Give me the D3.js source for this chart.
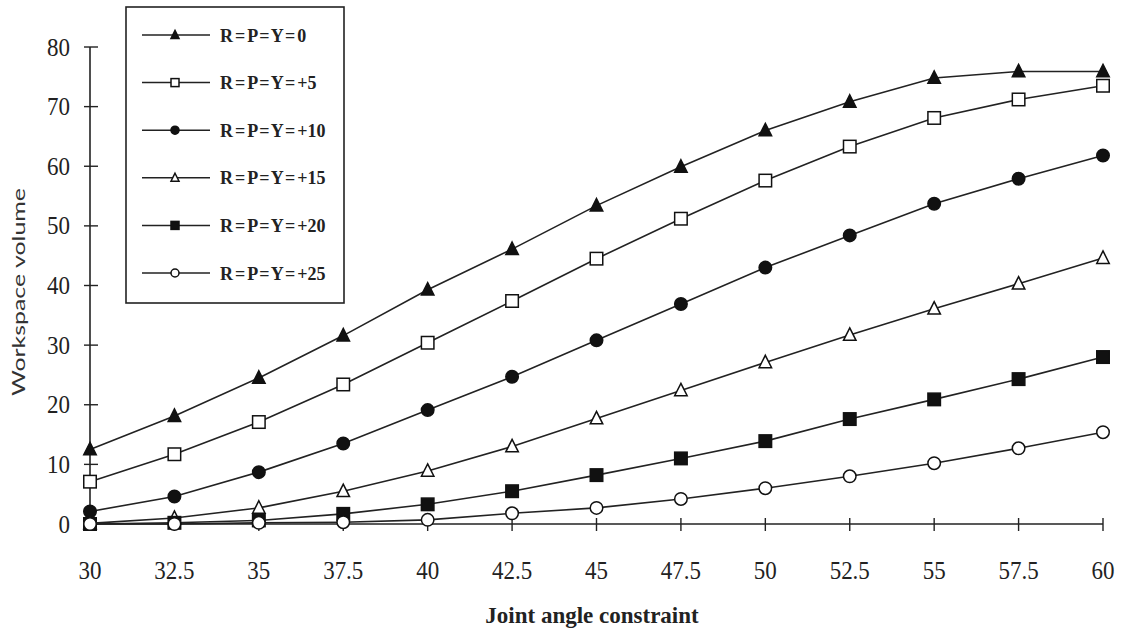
<!DOCTYPE html>
<html>
<head>
<meta charset="utf-8">
<script src="https://cdn.jsdelivr.net/npm/d3@7/dist/d3.min.js"></script>
<style>
  html, body { margin: 0; padding: 0; background: #fff; }
  svg { display: block; }
</style>
</head>
<body>
<svg id="chart" width="1132" height="635"></svg>
<script>
const angles = [30, 32.5, 35, 37.5, 40, 42.5, 45, 47.5, 50, 52.5, 55, 57.5, 60];
const xTickLabels = ["30", "32.5", "35", "37.5", "40", "42.5", "45", "47.5", "50", "52.5", "55", "57.5", "60"];
const yTicks = [0, 10, 20, 30, 40, 50, 60, 70, 80];

const seriesNames = ["R = P = Y = 0", "R = P = Y = +5", "R = P = Y = +10", "R = P = Y = +15", "R = P = Y = +20", "R = P = Y = +25"];
const seriesMarkers = ["triangleFilled", "squareOpen", "circleFilled", "triangleOpen", "squareFilled", "circleOpen"];

const rpy0  = [12.5, 18.1, 24.5, 31.6, 39.3, 46.1, 53.4, 59.9, 66.0, 70.8, 74.8, 75.9, 75.9];
const rpy5  = [7.1, 11.7, 17.1, 23.4, 30.4, 37.4, 44.5, 51.2, 57.6, 63.3, 68.1, 71.2, 73.5];
const rpy10 = [2.1, 4.6, 8.7, 13.5, 19.1, 24.7, 30.8, 36.9, 43.0, 48.4, 53.7, 57.9, 61.8];
const rpy15 = [0.1, 1.0, 2.7, 5.5, 8.9, 13.0, 17.7, 22.4, 27.1, 31.7, 36.1, 40.3, 44.6];
const rpy20 = [0.0, 0.2, 0.6, 1.7, 3.3, 5.5, 8.2, 11.0, 13.9, 17.6, 20.9, 24.3, 28.0];
const rpy25 = [0.0, 0.0, 0.2, 0.3, 0.7, 1.8, 2.7, 4.2, 6.0, 8.0, 10.2, 12.7, 15.4];

const seriesValues = [rpy0, rpy5, rpy10, rpy15, rpy20, rpy25];

const svg = d3.select("#chart");
const x = d3.scaleLinear().domain([30, 60]).range([90, 1103]);
const y = d3.scaleLinear().domain([0, 80]).range([524, 47]);

const serif = "'Liberation Serif', 'Times New Roman', serif";

// Axes
const xAxisG = svg.append("g").attr("transform", `translate(0,${y(0)})`);
xAxisG.append("line").attr("x1", x(30)).attr("x2", x(60)).attr("y1", 0).attr("y2", 0)
  .attr("stroke", "#222").attr("stroke-width", 1.6);
xAxisG.selectAll("line.tick").data(angles).enter().append("line")
  .attr("class", "tick")
  .attr("x1", d => x(d)).attr("x2", d => x(d)).attr("y1", -6).attr("y2", 7)
  .attr("stroke", "#222").attr("stroke-width", 1.4);
xAxisG.selectAll("text").data(angles).enter().append("text")
  .attr("transform", d => `translate(${x(d)},55) scale(1,1.12)`)
  .attr("text-anchor", "middle")
  .attr("font-family", serif).attr("font-size", 23).attr("fill", "#222")
  .text((d, i) => xTickLabels[i]);

const yAxisG = svg.append("g").attr("transform", `translate(${x(30)},0)`);
yAxisG.append("line").attr("x1", 0).attr("x2", 0).attr("y1", y(80)).attr("y2", y(0))
  .attr("stroke", "#222").attr("stroke-width", 1.6);
yAxisG.selectAll("line.tick").data(yTicks).enter().append("line")
  .attr("class", "tick")
  .attr("x1", -6).attr("x2", 8).attr("y1", d => y(d)).attr("y2", d => y(d))
  .attr("stroke", "#222").attr("stroke-width", 1.4);
yAxisG.selectAll("text").data(yTicks).enter().append("text")
  .attr("transform", d => `translate(-20,${y(d) + 8.5}) scale(1,1.12)`)
  .attr("text-anchor", "end")
  .attr("font-family", serif).attr("font-size", 23).attr("fill", "#222")
  .text(d => d);

// Axis titles
svg.append("text")
  .attr("x", 592).attr("y", 623)
  .attr("text-anchor", "middle")
  .attr("font-family", serif).attr("font-weight", "bold").attr("font-size", 23).attr("fill", "#222")
  .text("Joint angle constraint");

svg.append("text")
  .attr("transform", "translate(25,292) rotate(-90)")
  .attr("text-anchor", "middle")
  .attr("font-family", "Lato, 'Open Sans', sans-serif").attr("font-weight", 400)
  .attr("font-size", 18).attr("fill", "#333")
  .attr("textLength", 208).attr("lengthAdjust", "spacingAndGlyphs")
  .text("Workspace volume");

// Marker drawing
function drawMarker(g, type, cx, cy, s) {
  const filled = type.endsWith("Filled");
  const fill = filled ? "#111" : "#fff";
  const stroke = "#111";
  if (type.startsWith("triangle")) {
    const h = s * 0.95;
    g.append("path")
      .attr("d", `M${cx},${cy - h * 0.6} L${cx + s / 2},${cy + h * 0.45} L${cx - s / 2},${cy + h * 0.45} Z`)
      .attr("fill", fill).attr("stroke", stroke).attr("stroke-width", 1.5).attr("stroke-linejoin", "miter");
  } else if (type.startsWith("square")) {
    g.append("rect")
      .attr("x", cx - s / 2).attr("y", cy - s / 2).attr("width", s).attr("height", s)
      .attr("fill", fill).attr("stroke", stroke).attr("stroke-width", 1.5);
  } else {
    g.append("circle").attr("cx", cx).attr("cy", cy).attr("r", s / 2)
      .attr("fill", fill).attr("stroke", stroke).attr("stroke-width", 1.5);
  }
}

const line = d3.line().x((d, i) => x(angles[i])).y(d => y(d));

const plot = svg.append("g");
seriesValues.forEach((vals, si) => {
  plot.append("path").attr("d", line(vals))
    .attr("fill", "none").attr("stroke", "#222").attr("stroke-width", 1.6);
});
seriesValues.forEach((vals, si) => {
  const g = plot.append("g");
  vals.forEach((v, i) => drawMarker(g, seriesMarkers[si], x(angles[i]), y(v), 12.5));
});

// Legend
const legend = svg.append("g");
legend.append("rect").attr("x", 126).attr("y", 7).attr("width", 218).attr("height", 296)
  .attr("fill", "#fff").attr("stroke", "#222").attr("stroke-width", 1.6);
const rowY = d3.scaleLinear().domain([0, 5]).range([35, 273]);
seriesNames.forEach((name, i) => {
  const ly = rowY(i);
  legend.append("line").attr("x1", 142).attr("x2", 210).attr("y1", ly).attr("y2", ly)
    .attr("stroke", "#222").attr("stroke-width", 1.5);
  drawMarker(legend, seriesMarkers[i], 175, ly, 8);
  legend.append("text").attr("transform", `translate(220,${ly + 6.5}) scale(1,1.1)`)
    .attr("font-family", serif).attr("font-weight", "bold").attr("font-size", 18).attr("fill", "#222")
    .attr("word-spacing", "-2.5px")
    .text(name);
});
</script>
</body>
</html>
